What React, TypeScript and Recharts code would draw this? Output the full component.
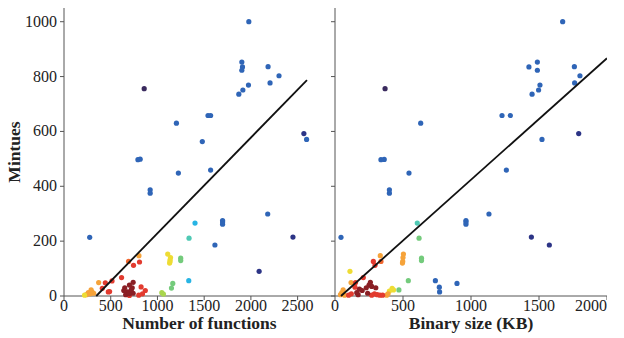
import { ScatterChart, Scatter, XAxis, YAxis } from 'recharts'

const funcTicks = [0, 500, 1000, 1500, 2000, 2500]
const sizeTicks = [0, 500, 1000, 1500, 2000]
const minuteTicks = [0, 200, 400, 600, 800, 1000]

// [x, minutes, group]
const byFunctions: [number, number, string][] = [
  [1978, 1000, 'blue'], [1903, 853, 'blue'], [1910, 835, 'blue'], [1903, 823, 'blue'],
  [2184, 836, 'blue'], [2301, 803, 'blue'], [2205, 777, 'blue'], [1974, 769, 'blue'],
  [1914, 751, 'blue'], [1871, 736, 'blue'], [1541, 658, 'blue'], [1569, 658, 'blue'],
  [1203, 630, 'blue'], [1480, 563, 'blue'], [2596, 571, 'blue'], [791, 497, 'blue'],
  [815, 499, 'blue'], [1224, 448, 'blue'], [1569, 459, 'blue'], [922, 387, 'blue'],
  [922, 375, 'blue'], [275, 214, 'blue'], [2180, 299, 'blue'], [1697, 275, 'blue'],
  [1697, 270, 'blue'], [1697, 262, 'blue'], [1615, 186, 'blue'],
  [2567, 592, 'navy'], [2450, 215, 'navy'], [2088, 90, 'navy'],
  [858, 756, 'purple'],
  [1402, 266, 'cyan'], [1335, 56, 'cyan'],
  [1338, 211, 'teal'],
  [1249, 138, 'green'], [1249, 129, 'green'], [1164, 46, 'green'], [1150, 29, 'green'],
  [1047, 12, 'lime'], [1064, 7, 'lime'],
  [1110, 153, 'yellow'], [1140, 140, 'yellow'], [1135, 132, 'yellow'], [1135, 126, 'yellow'], [1130, 120, 'yellow'],
  [802, 147, 'orange'], [371, 49, 'orange'], [290, 22, 'orange'], [300, 15, 'orange'],
  [260, 12, 'orange'], [240, 5, 'orange'], [220, 3, 'yellow'], [318, 10, 'orange'], [280, 8, 'orange'],
  [691, 126, 'orangered'],
  [744, 112, 'red'], [808, 124, 'red'], [616, 67, 'red'], [514, 55, 'red'], [442, 48, 'red'],
  [410, 28, 'red'], [474, 15, 'red'], [488, 16, 'red'], [825, 33, 'red'], [870, 20, 'red'],
  [840, 8, 'red'], [800, 3, 'red'], [700, 2, 'red'],
  [740, 50, 'darkred'], [700, 40, 'darkred'], [650, 30, 'darkred'], [730, 30, 'darkred'],
  [680, 15, 'darkred'], [660, 5, 'darkred'], [740, 10, 'darkred'], [700, 8, 'darkred'],
  [640, 20, 'darkred'], [720, 22, 'darkred'],
]

const bySize: [number, number, string][] = [
  [1674, 1000, 'blue'], [1488, 853, 'blue'], [1426, 835, 'blue'], [1488, 823, 'blue'],
  [1760, 836, 'blue'], [1801, 803, 'blue'], [1762, 777, 'blue'], [1507, 769, 'blue'],
  [1497, 751, 'blue'], [1449, 736, 'blue'], [1228, 658, 'blue'], [1289, 658, 'blue'],
  [630, 630, 'blue'], [1522, 571, 'blue'], [338, 497, 'blue'], [362, 498, 'blue'],
  [544, 448, 'blue'], [1260, 459, 'blue'], [400, 387, 'blue'], [400, 375, 'blue'],
  [44, 214, 'blue'], [1132, 299, 'blue'], [963, 275, 'blue'], [963, 270, 'blue'],
  [963, 262, 'blue'], [738, 56, 'blue'], [767, 32, 'blue'], [769, 15, 'blue'], [897, 46, 'blue'],
  [1792, 592, 'navy'], [1444, 215, 'navy'], [1576, 186, 'navy'],
  [368, 756, 'purple'],
  [605, 266, 'teal'],
  [618, 211, 'green'], [636, 138, 'green'], [636, 129, 'green'], [539, 56, 'green'], [470, 22, 'green'],
  [110, 90, 'yellow'], [420, 28, 'yellow'], [430, 22, 'yellow'], [400, 18, 'yellow'],
  [503, 153, 'orange'], [500, 140, 'orange'], [498, 126, 'orange'], [496, 120, 'orange'],
  [333, 147, 'orange'], [118, 49, 'orange'], [60, 22, 'orange'], [50, 12, 'orange'],
  [40, 5, 'orange'], [70, 3, 'orange'], [390, 8, 'orange'], [380, 3, 'orange'],
  [282, 126, 'red'], [338, 126, 'orangered'], [294, 112, 'red'], [208, 67, 'red'],
  [151, 49, 'red'], [147, 32, 'red'], [290, 8, 'red'], [310, 5, 'red'], [330, 3, 'red'],
  [350, 3, 'red'], [270, 3, 'red'], [120, 8, 'red'], [100, 3, 'red'],
  [260, 50, 'darkred'], [250, 40, 'darkred'], [270, 35, 'darkred'], [230, 30, 'darkred'],
  [300, 30, 'darkred'], [200, 20, 'darkred'], [160, 12, 'darkred'], [180, 25, 'darkred'],
  [240, 10, 'darkred'], [170, 5, 'darkred'],
]

// fitted trend lines, [x, minutes]
const funcFit: [number, number][] = [[345, 0], [2600, 787]]
const sizeFit: [number, number][] = [[44, 0], [2000, 867]]

const palette: Record<string, string> = {
  blue: '#2f65b7',
  navy: '#2c3486',
  purple: '#3a2a5e',
  cyan: '#27b4e4',
  teal: '#4fc9b4',
  green: '#74cb7c',
  lime: '#a9d54e',
  yellow: '#eedc34',
  orange: '#f6a33a',
  orangered: '#f0672f',
  red: '#e23b2f',
  darkred: '#8a1f25',
}

const toPoints = (rows: [number, number, string][]) => rows.map(([x, y, g]) => ({ x, y, g }))
const toLine = (rows: [number, number][]) => rows.map(([x, y]) => ({ x, y }))

const dot = (p: any) => (
  <circle cx={p.cx} cy={p.cy} r={2.6} fill={palette[p.payload.g]} />
)

const serif = '"Liberation Serif", "Times New Roman", serif'
const labelStyle = { fontSize: 17.5, fontWeight: 'bold' as const, fill: '#222', fontFamily: serif }

const XTick = (p: any) => (
  <text x={p.x} y={p.y + 9} textAnchor="middle" style={{ fontFamily: serif, fontSize: 16, fill: '#222' }}>
    {p.payload.value}
  </text>
)

const YTick = (p: any) => (
  <text x={p.x - 1} y={p.y + 5} textAnchor="end" style={{ fontFamily: serif, fontSize: 16, fill: '#222' }}>
    {p.payload.value}
  </text>
)

function Panel(props: {
  rows: [number, number, string][]
  fit: [number, number][]
  ticks: number[]
  xMax: number
  xLabel: string
  showY: boolean
  width: number
  yWidth: number
}) {
  const { rows, fit, ticks, xMax, xLabel, showY, width, yWidth } = props
  return (
    <ScatterChart width={width} height={338} margin={{ top: 8, right: 0, left: 0, bottom: 0 }}>
      <XAxis
        xAxisId="b"
        type="number"
        dataKey="x"
        domain={[0, xMax]}
        ticks={ticks}
        height={42}
        tickSize={4}
        tick={<XTick />}
        stroke="#555"
        label={{ value: xLabel, position: 'insideBottom', offset: 9, style: labelStyle }}
      />
      <XAxis xAxisId="t" orientation="top" type="number" domain={[0, xMax]} height={0} tick={false} tickLine={false} stroke="#aaa" />
      <YAxis
        yAxisId="l"
        type="number"
        dataKey="y"
        domain={[0, 1050]}
        ticks={minuteTicks}
        width={yWidth}
        tickSize={4}
        stroke="#555"
        tick={showY ? <YTick /> : () => <g />}
        label={
          showY
            ? { value: 'Mintues', angle: -90, position: 'insideLeft', offset: 14, style: { ...labelStyle, textAnchor: 'middle' } }
            : undefined
        }
      />
      <YAxis yAxisId="r" orientation="right" type="number" domain={[0, 1050]} width={0} tick={false} tickLine={false} stroke="#aaa" />
      <Scatter xAxisId="b" yAxisId="l" data={toPoints(rows)} shape={dot} isAnimationActive={false} />
      <Scatter
        xAxisId="b"
        yAxisId="l"
        data={toLine(fit)}
        line={{ stroke: '#111', strokeWidth: 1.8 }}
        shape={() => <g />}
        isAnimationActive={false}
      />
    </ScatterChart>
  )
}

export default function App() {
  return (
    <div style={{ position: 'absolute', left: 0, top: 0, width: 624, height: 338, fontFamily: serif, background: '#fff' }}>
      <div style={{ position: 'absolute', left: 0, top: 0 }}>
        <Panel rows={byFunctions} fit={funcFit} ticks={funcTicks} xMax={2900} xLabel="Number of functions" showY width={335} yWidth={64} />
      </div>
      <div style={{ position: 'absolute', left: 300, top: 0 }}>
        <Panel rows={bySize} fit={sizeFit} ticks={sizeTicks} xMax={2000} xLabel="Binary size (KB)" showY={false} width={307} yWidth={35} />
      </div>
    </div>
  )
}
